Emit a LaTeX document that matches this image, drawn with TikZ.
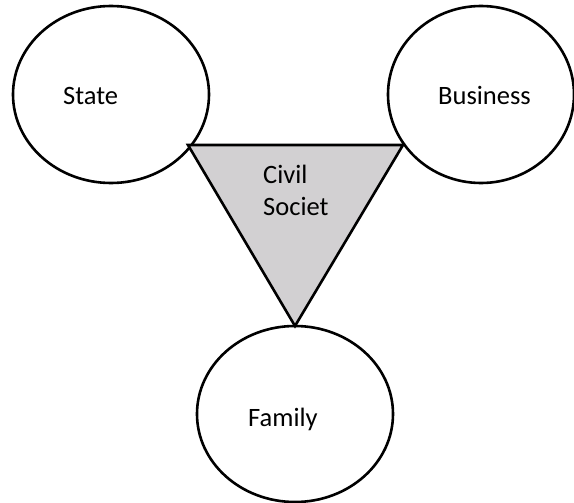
\documentclass[tikz,border=0pt]{standalone}
\usepackage{fontspec}
\setmainfont{Carlito}
\usepackage{tikz}
\usetikzlibrary{shapes.geometric, positioning}
\definecolor{societygray}{RGB}{210,208,210}
\tikzset{
  sphere/.style={draw=black, fill=white, line width=2.6pt, ellipse, inner sep=0pt},
  word/.style={anchor=base west, inner sep=0pt, font=\fontsize{26.5}{32}\selectfont}
}

\begin{document}
\begin{tikzpicture}[x=1pt, y=-1pt]
          \useasboundingbox (0,0) rectangle (574,503);
          % Spheres
          \node[sphere, minimum width=196pt, minimum height=177pt] (state) at (111,94.5) {};
          \node[sphere, minimum width=186pt, minimum height=177pt] (business) at (481,94.5) {};
          \node[sphere, minimum width=196pt, minimum height=176pt] (family) at (295,414) {};
          % Triangle
          \coordinate (tl) at (188,145);
          \coordinate (tr) at (403,145);
          \coordinate (bt) at (295,326);
          \draw[fill=societygray, line width=2.6pt, line join=miter] (tl) -- (tr) -- (bt) -- cycle;
          % Labels
          \node[word] (statelabel) at (63,105) {State};
          \node[word] (businesslabel) at (438,105) {Business};
          \node[word] (familylabel) at (248,426) {Family};
          \node[word, align=left] (civillabel) at (263,215) {Civil\\Societ};
        \end{tikzpicture}
\end{document}
